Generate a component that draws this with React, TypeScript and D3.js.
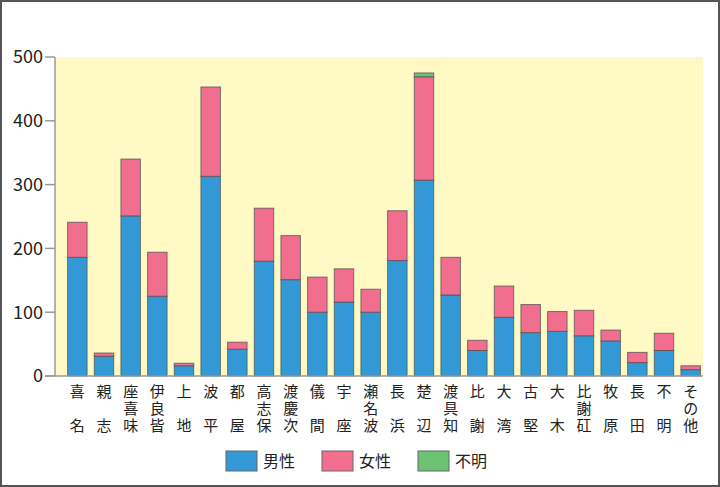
import React, { useEffect, useRef } from "react";
import * as d3 from "d3";

// 地区名（縦書きで描く）
const categories: string[] = [
  "喜名", "親志", "座喜味", "伊良皆", "上地", "波平", "都屋", "高志保",
  "渡慶次", "儀間", "宇座", "瀬名波", "長浜", "楚辺", "渡具知", "比謝",
  "大湾", "古堅", "大木", "比謝矼", "牧原", "長田", "不明", "その他",
];

const male: number[] = [
  186, 31, 251, 125, 16, 313, 42, 180, 151, 100, 116, 100, 181, 307, 127, 40,
  92, 68, 70, 63, 55, 21, 40, 10,
];
const female: number[] = [
  55, 5, 89, 69, 4, 140, 11, 83, 69, 55, 52, 36, 78, 162, 59, 16,
  49, 44, 31, 40, 17, 16, 27, 6,
];
const unknown: number[] = [
  0, 0, 0, 0, 0, 0, 0, 0, 0, 0, 0, 0, 0, 6, 0, 0,
  0, 0, 0, 0, 0, 0, 0, 0,
];

const seriesNames = ["男性", "女性", "不明"];
const seriesColors = ["#3399d6", "#f26e8e", "#6dc274"];
const yTicks = [0, 100, 200, 300, 400, 500];

const W = 720;
const H = 487;
const FONT = "'Noto Sans CJK JP', 'Noto Sans', sans-serif";

const App: React.FC = () => {
  const svgRef = useRef<SVGSVGElement | null>(null);

  useEffect(() => {
    document.body.style.margin = "0";
    const svg = d3.select(svgRef.current);
    svg.selectAll("*").remove();

    const plot = { left: 55, right: 703, top: 57, bottom: 376 };

    const x = d3
      .scaleBand<string>()
      .domain(categories)
      .range([64, 704])
      .paddingInner(0.27)
      .paddingOuter(0.135);

    const y = d3.scaleLinear().domain([0, 500]).range([plot.bottom, plot.top]);

    // outer frame
    svg
      .append("rect")
      .attr("x", 1)
      .attr("y", 1)
      .attr("width", W - 2)
      .attr("height", H - 2)
      .attr("fill", "#fff")
      .attr("stroke", "#555")
      .attr("stroke-width", 2);

    // plot background
    svg
      .append("rect")
      .attr("x", plot.left)
      .attr("y", plot.top)
      .attr("width", plot.right - plot.left)
      .attr("height", plot.bottom - plot.top)
      .attr("fill", "#fff9c6");

    // stacked bars
    const rows = categories.map((c, i) => ({
      cat: c,
      v0: male[i],
      v1: female[i],
      v2: unknown[i],
    }));
    const stack = d3.stack<(typeof rows)[number]>().keys(["v0", "v1", "v2"]);
    const layers = stack(rows as any);

    layers.forEach((layer, li) => {
      svg
        .append("g")
        .selectAll("rect")
        .data(layer)
        .join("rect")
        .filter((d) => d[1] - d[0] > 0)
        .attr("x", (d) => x(d.data.cat)!)
        .attr("y", (d) => y(d[1]))
        .attr("width", x.bandwidth())
        .attr("height", (d) => y(d[0]) - y(d[1]))
        .attr("fill", seriesColors[li])
        .attr("stroke", "rgba(80,80,80,0.75)")
        .attr("stroke-width", 1);
    });

    // y axis
    const ax = svg.append("g");
    ax.append("line")
      .attr("x1", plot.left)
      .attr("x2", plot.left)
      .attr("y1", plot.top)
      .attr("y2", plot.bottom)
      .attr("stroke", "#999")
      .attr("stroke-width", 1.5);
    ax.append("line")
      .attr("x1", 45)
      .attr("x2", plot.right)
      .attr("y1", plot.bottom)
      .attr("y2", plot.bottom)
      .attr("stroke", "#999")
      .attr("stroke-width", 1.5);
    ax.selectAll("line.tick")
      .data(yTicks)
      .join("line")
      .attr("class", "tick")
      .attr("x1", 45)
      .attr("x2", plot.left)
      .attr("y1", (d) => y(d))
      .attr("y2", (d) => y(d))
      .attr("stroke", "#999")
      .attr("stroke-width", 1.5);
    ax.selectAll("text")
      .data(yTicks)
      .join("text")
      .attr("x", 43)
      .attr("y", (d) => y(d))
      .attr("dy", "0.36em")
      .attr("text-anchor", "end")
      .attr("font-family", FONT)
      .attr("font-size", 18)
      .attr("fill", "#222")
      .text((d) => d);

    // vertical category labels
    const rowY = [392, 409, 426];
    categories.forEach((c) => {
      const chars = Array.from(c);
      const rowsFor = chars.length === 2 ? [0, 2] : [0, 1, 2];
      const cx = x(c)! + x.bandwidth() / 2;
      chars.forEach((ch, k) => {
        svg
          .append("text")
          .attr("x", cx)
          .attr("y", rowY[rowsFor[k]])
          .attr("dy", "0.36em")
          .attr("text-anchor", "middle")
          .attr("font-family", FONT)
          .attr("font-size", 15)
          .attr("fill", "#222")
          .text(ch);
      });
    });

    // legend
    const legendX = [226, 322, 418];
    seriesNames.forEach((name, i) => {
      svg
        .append("rect")
        .attr("x", legendX[i])
        .attr("y", 451)
        .attr("width", 31)
        .attr("height", 20)
        .attr("fill", seriesColors[i])
        .attr("stroke", "#666")
        .attr("stroke-width", 1);
      svg
        .append("text")
        .attr("x", legendX[i] + 37)
        .attr("y", 461)
        .attr("dy", "0.36em")
        .attr("font-family", FONT)
        .attr("font-size", 16)
        .attr("fill", "#222")
        .text(name);
    });
  }, []);

  return <svg ref={svgRef} width={W} height={H} style={{ display: "block" }} />;
};

export default App;
